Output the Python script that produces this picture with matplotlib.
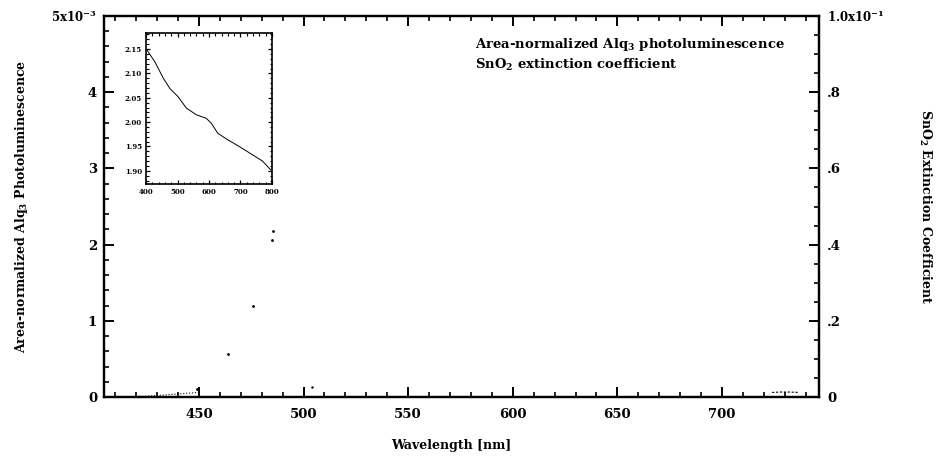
import matplotlib
matplotlib.use("Agg")
import matplotlib.pyplot as plt
from matplotlib.ticker import MultipleLocator

plt.rcParams['font.family'] = 'DejaVu Serif'
plt.rcParams['font.weight'] = 'bold'
plt.rcParams['axes.labelweight'] = 'bold'
plt.rcParams['mathtext.fontset'] = 'dejavuserif'
plt.rcParams['mathtext.default'] = 'bf'

# DONNEES (la plupart des courbes sont effacees par le scan)
pl_low_wl = [420, 425, 430, 435, 440, 445, 450]
pl_low_val = [0.01e-3, 0.01e-3, 0.02e-3, 0.03e-3, 0.04e-3, 0.05e-3, 0.06e-3]
pl_pts_wl = [449, 464, 476, 485, 485.4]
pl_pts_val = [0.10e-3, 0.57e-3, 1.20e-3, 2.06e-3, 2.18e-3]

k_wl = [724, 728, 732, 737]
k_val = [0.0012, 0.0013, 0.0013, 0.0012]
k_dot_wl = [504]
k_dot_val = [0.0026]

n_wl = [402, 428, 455, 476, 502, 528, 560, 591, 607, 628, 659, 696, 738, 770, 796]
n_val = [2.149, 2.124, 2.090, 2.069, 2.052, 2.029, 2.015, 2.008, 1.998, 1.977,
         1.964, 1.950, 1.933, 1.920, 1.902]

left_ticks = [0, 1e-3, 2e-3, 3e-3, 4e-3, 5e-3]
left_labels = ['0', '1', '2', '3', '4', r'5x10$^{-3}$']
right_ticks = [0, 0.02, 0.04, 0.06, 0.08, 0.1]
right_labels = ['0', '.2', '.4', '.6', '.8', r'1.0x10$^{-1}$']
x_ticks = [450, 500, 550, 600, 650, 700]
inset_xticks = [400, 500, 600, 700, 800]
inset_yticks = [1.90, 1.95, 2.00, 2.05, 2.10, 2.15]

# FIGURE
fig = plt.figure(figsize=(9.36, 4.66), dpi=100)
ax = fig.add_axes([104 / 936, 1 - 397 / 466, 715 / 936, 381 / 466])
ax2 = ax.twinx()

ax.plot(pl_low_wl, pl_low_val, color='black', linestyle=':', linewidth=0.8)
ax.plot(pl_pts_wl, pl_pts_val, color='black', linestyle='none', marker='.', markersize=2)
ax2.plot(k_wl, k_val, color='black', linestyle='--', linewidth=0.8, dashes=(2, 1.5))
ax2.plot(k_dot_wl, k_dot_val, color='black', linestyle='none', marker='.', markersize=1.5)

ax.set_xlim(404.6, 746.4)
ax.set_ylim(0, 5e-3)
ax2.set_ylim(0, 0.1)

ax.set_xticks(x_ticks)
ax.xaxis.set_minor_locator(MultipleLocator(10))
ax.set_yticks(left_ticks)
ax.set_yticklabels(left_labels)
ax.yaxis.set_minor_locator(MultipleLocator(0.2e-3))
ax2.set_yticks(right_ticks)
ax2.set_yticklabels(right_labels)
ax2.yaxis.set_minor_locator(MultipleLocator(0.005))

for a in (ax, ax2):
    for s in a.spines.values():
        s.set_linewidth(1.6)
ax.tick_params(axis='x', which='both', direction='in', top=True, labelsize=9.5, pad=8)
ax.tick_params(axis='y', which='both', direction='in', right=False, labelsize=9.5, pad=5)
ax.tick_params(which='major', length=7, width=1.4)
ax.tick_params(which='minor', length=3.5, width=1.2)
ax2.tick_params(axis='y', which='both', direction='in', labelsize=9.5, pad=6)
ax2.tick_params(which='major', length=7, width=1.4)
ax2.tick_params(which='minor', length=3.5, width=1.2)
# exposants plus petits comme sur l'original
ax.get_yticklabels()[-1].set_fontsize(8.5)
ax2.get_yticklabels()[-1].set_fontsize(8.5)

ax.set_xlabel('Wavelength [nm]', fontsize=9, va='center')
ax.xaxis.set_label_coords(0.485, -0.126)
ax.set_ylabel('Area-normalized Alq$_3$ Photoluminescence', fontsize=9, va='center')
ax.yaxis.set_label_coords(-0.1147, 0.5)
ax2.set_ylabel('SnO$_2$ Extinction Coefficient', fontsize=9, rotation=-90, va='center')
ax2.yaxis.set_label_coords(1.148, 0.5)

ax.text(0.519, 0.924, 'Area-normalized Alq$_3$ photoluminescence', transform=ax.transAxes,
        fontsize=9.5, va='center', ha='left')
ax.text(0.519, 0.871, 'SnO$_2$ extinction coefficient', transform=ax.transAxes,
        fontsize=9.5, va='center', ha='left')

# ENCART
axi = fig.add_axes([146 / 936, 1 - 184 / 466, 126 / 936, 151 / 466])
axi.plot(n_wl, n_val, color='black', linewidth=0.7)
axi.set_xlim(400, 800)
axi.set_ylim(1.873, 2.183)
axi.set_xticks(inset_xticks)
axi.set_yticks(inset_yticks)
axi.set_yticklabels(['%.2f' % v for v in inset_yticks])
axi.xaxis.set_minor_locator(MultipleLocator(20))
axi.yaxis.set_minor_locator(MultipleLocator(0.01))
axi.tick_params(which='both', direction='in', top=True, right=True, labelsize=5, pad=3)
axi.tick_params(which='major', length=3, width=0.9)
axi.tick_params(which='minor', length=1.8, width=0.8)
for s in axi.spines.values():
    s.set_linewidth(1.2)

fig.savefig('out.png', dpi=100)
